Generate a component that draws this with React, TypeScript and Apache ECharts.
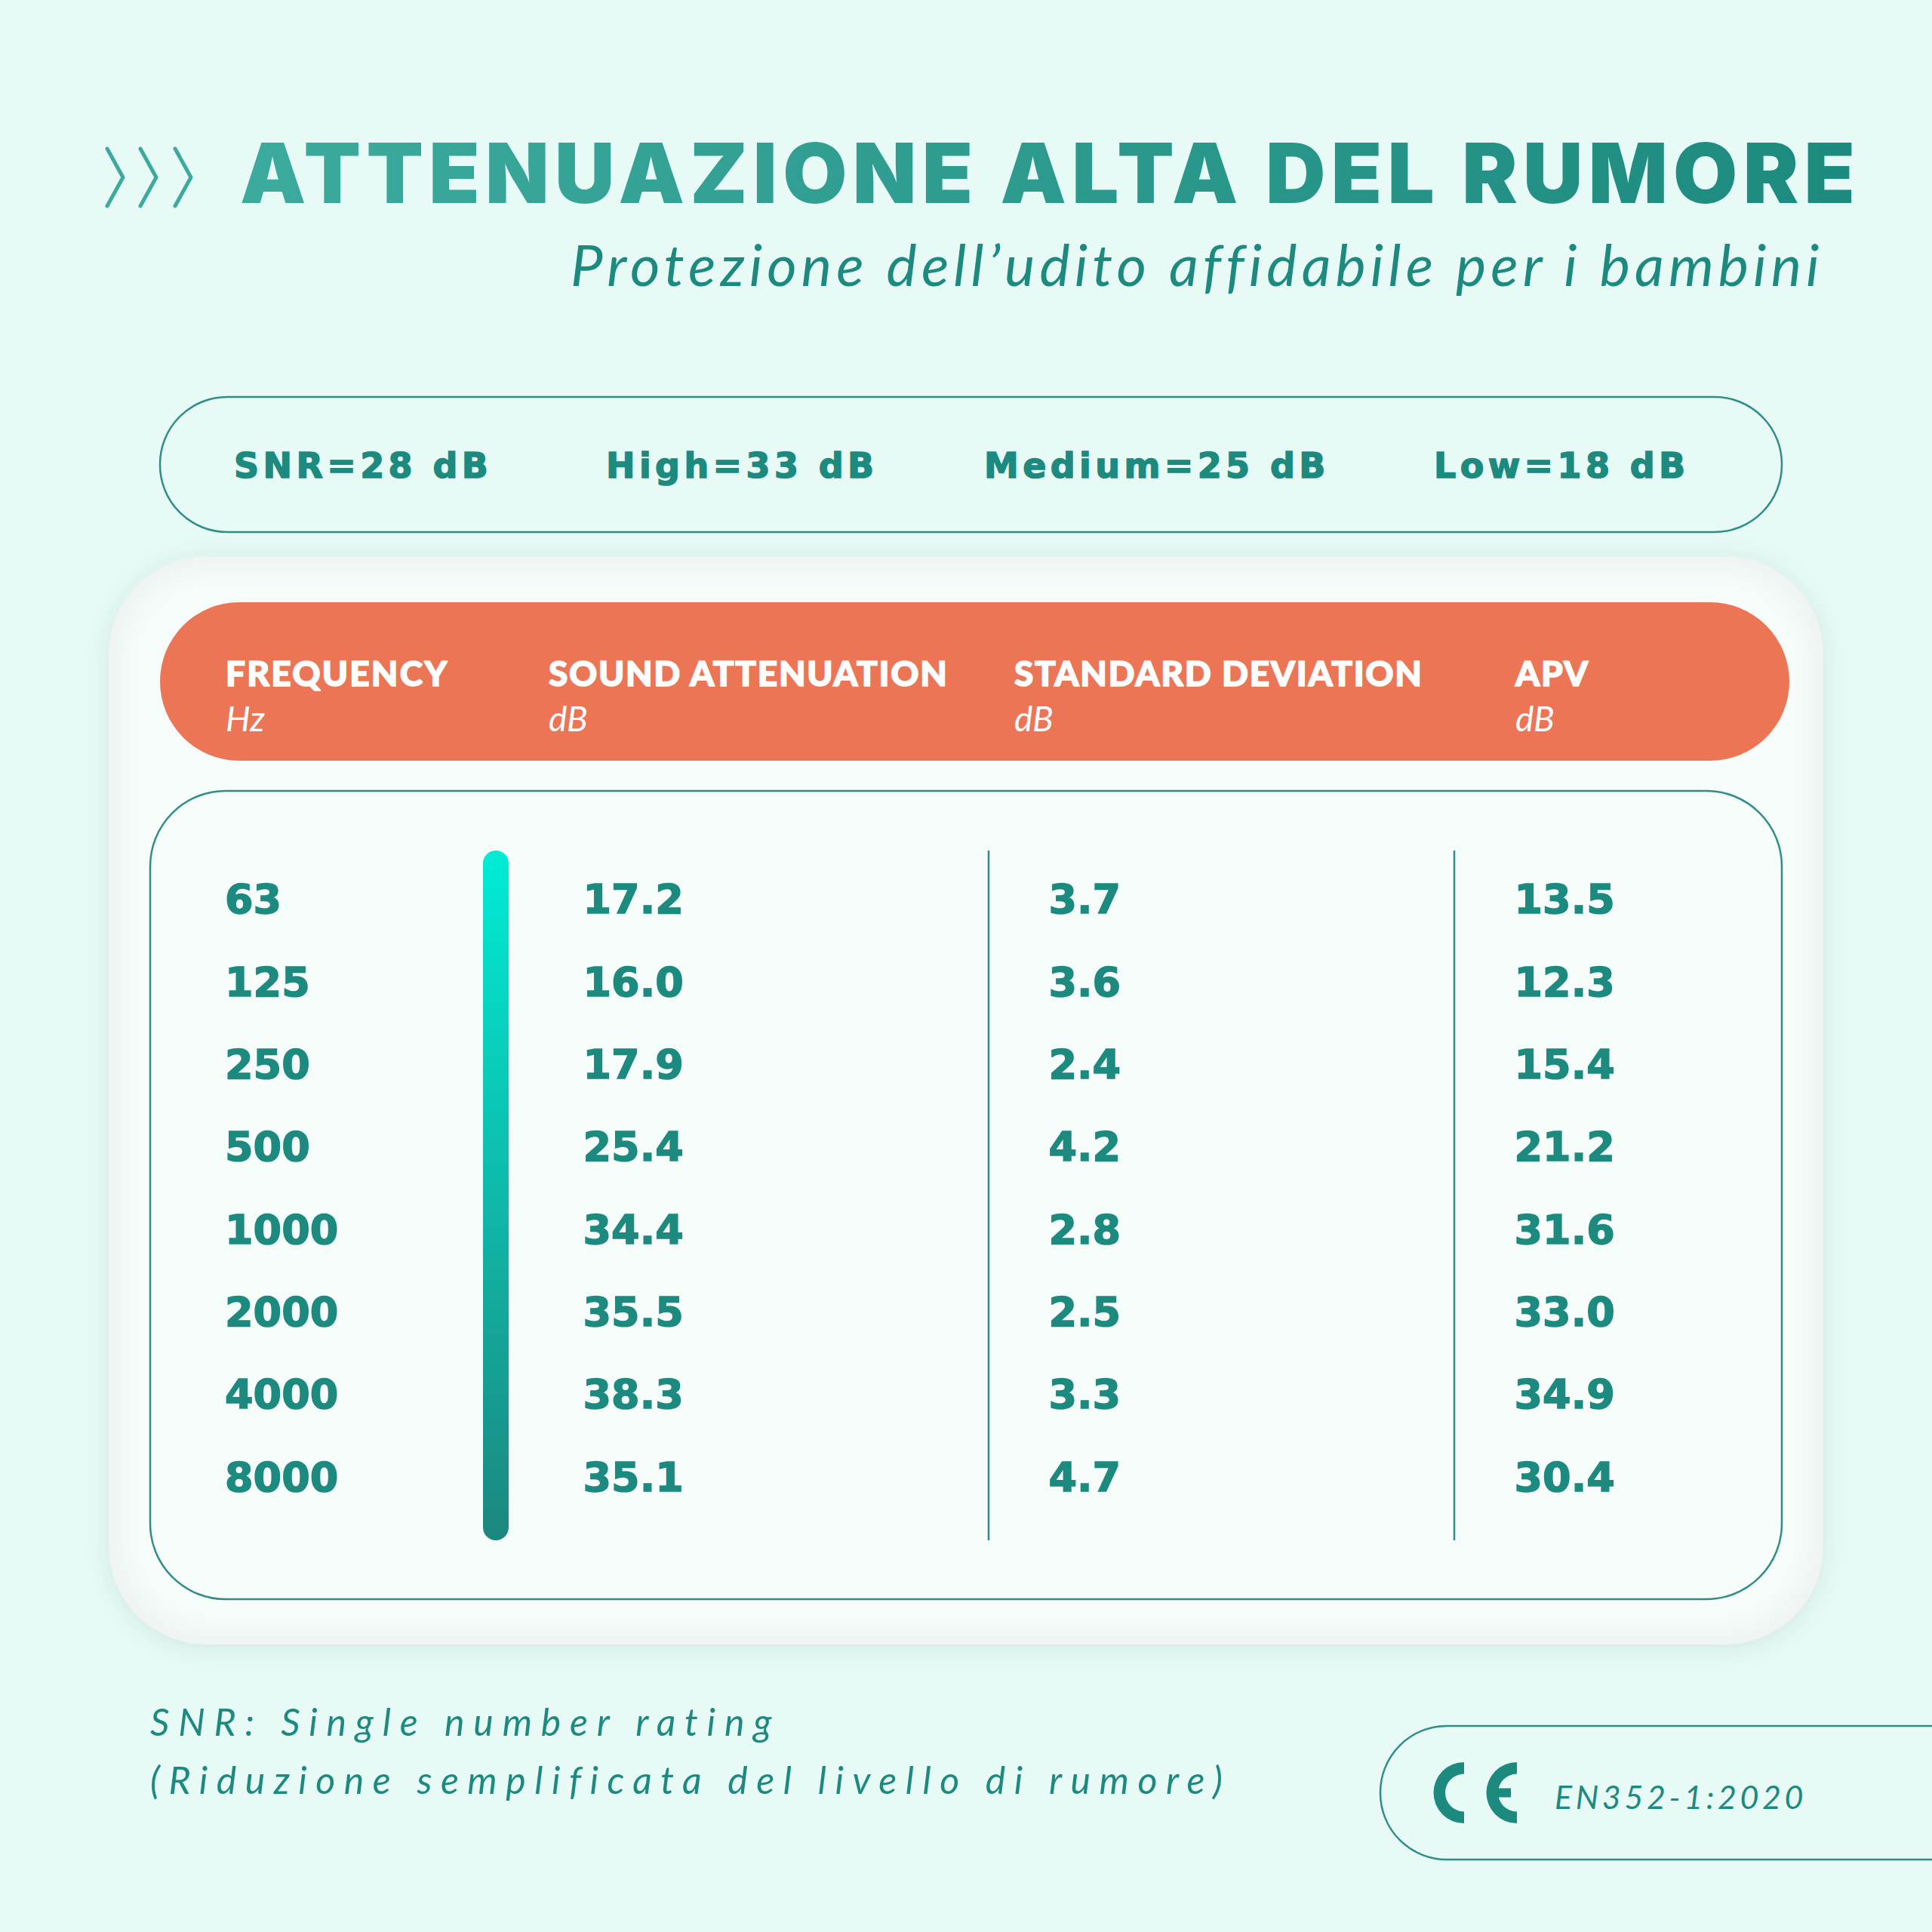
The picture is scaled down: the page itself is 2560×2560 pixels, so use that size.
import { useEffect, useRef } from 'react';
import * as echarts from 'echarts';

const frequencies = ['63', '125', '250', '500', '1000', '2000', '4000', '8000'];
const soundAttenuation = [17.2, 16.0, 17.9, 25.4, 34.4, 35.5, 38.3, 35.1];
const standardDeviation = [3.7, 3.6, 2.4, 4.2, 2.8, 2.5, 3.3, 4.7];
const apv = [13.5, 12.3, 15.4, 21.2, 31.6, 33.0, 34.9, 30.4];

const ratingLabels = ['SNR=28 dB', 'High=33 dB', 'Medium=25 dB', 'Low=18 dB'];
const ratingX = [310, 803, 1304, 1900];
const columnTitles = ['FREQUENCY', 'SOUND ATTENUATION', 'STANDARD DEVIATION', 'APV'];
const columnUnits = ['Hz', 'dB', 'dB', 'dB'];
const headerX = [299, 727, 1344, 2008];
const footnotes = ['SNR: Single number rating', '(Riduzione semplificata del livello di rumore)'];

const TITLE = 'ATTENUAZIONE ALTA DEL RUMORE';
const SUBTITLE = 'Protezione dell\u2019udito affidabile per i bambini';
const NORM = 'EN352-1:2020';

const TEAL = '#1c8a7e';
const LINE = '#2f8f85';
const FONT = 'Lato';
const HEAVY = '"DejaVu Sans"';

// css letter spacing per text, echarts has no option for it
const spacing: Record<string, number> = {
  [TITLE]: 7.3,
  [SUBTITLE]: 6.1,
  [NORM]: 4.6,
  [footnotes[0]]: 11.8,
  [footnotes[1]]: 11.5,
  FREQUENCY: 2.2,
  'SOUND ATTENUATION': 1.7,
  'STANDARD DEVIATION': 1.7,
  APV: 1.7,
};
ratingLabels.forEach((l) => (spacing[l] = 5.4));

echarts.graphic.registerShape(
  'ceMark',
  echarts.graphic.extendPath(
    'M44 0 A40.5 40.5 0 0 0 44 81 L44 65.5 A25 25 0 0 1 44 15.5 Z ' +
      'M114 0 A40.5 40.5 0 0 0 114 81 L114 65.5 A25 25 0 0 1 114 15.5 Z ' +
      'M84 34.5 L84 46.5 L106 46.5 L106 34.5 Z',
    {}
  )
);

function txt(text: string, x: number, y: number, size: number, weight: number, fill: string, italic = false, family = FONT, thicken = 0) {
  return {
    type: 'text',
    style: {
      text,
      x,
      y,
      fill,
      stroke: thicken ? fill : undefined,
      lineWidth: thicken,
      fontFamily: family,
      fontSize: size,
      fontWeight: weight,
      fontStyle: italic ? 'italic' : 'normal',
      verticalAlign: 'middle',
    },
  };
}

function chevron(x: number) {
  return {
    type: 'polyline',
    shape: { points: [[x, 197], [x + 21, 235], [x, 273]] },
    style: { fill: 'none', stroke: '#3cab9e', lineWidth: 5, lineCap: 'round', lineJoin: 'round' },
  };
}

function vLine(x: number) {
  return {
    type: 'line',
    shape: { x1: x, y1: 1127, x2: x, y2: 2041 },
    style: { stroke: LINE, lineWidth: 2.5 },
  };
}

// soft rim of the panel: stepped rects from the grey edge to the inner tint
function panelRim() {
  const steps = 12;
  const from = [239, 244, 242];
  const to = [245, 252, 250];
  const out: any[] = [];
  for (let i = 1; i <= steps; i++) {
    const c = from.map((f, k) => Math.round(f + ((to[k] - f) * i) / steps));
    const d = i * 3;
    out.push({
      type: 'rect',
      shape: { x: 144 + d, y: 737 + d, width: 2272 - 2 * d, height: 1442 - 2 * d, r: 130 - d * 0.7 },
      style: { fill: `rgb(${c.join(',')})` },
    });
  }
  return out;
}

function valueColumn(name: string, x: number, values: number[]) {
  return {
    name,
    type: 'scatter',
    symbolSize: 1,
    itemStyle: { color: 'transparent', opacity: 1 },
    data: values.map((v, i) => ({ value: [x, i], label: { formatter: v.toFixed(1) } })),
    label: {
      show: true,
      position: 'right',
      distance: 0,
      color: TEAL,
      fontFamily: HEAVY,
      fontSize: 54,
      fontWeight: 700,
      textBorderColor: TEAL,
      textBorderWidth: 1.5,
    },
  };
}

export default function App() {
  const chartRef = useRef<HTMLDivElement>(null);

  useEffect(() => {
    if (!chartRef.current) return;
    const el = chartRef.current;
    const chart = echarts.init(el, undefined, { renderer: 'svg' });

    chart.setOption({
      animation: false,
      backgroundColor: '#e7faf6',
      grid: { left: 0, right: 0, top: 1137, height: 875 },
      xAxis: { type: 'value', min: 0, max: 2560, show: false },
      yAxis: {
        type: 'category',
        inverse: true,
        data: frequencies,
        axisLine: { show: false },
        axisTick: { show: false },
        splitLine: { show: false },
        axisLabel: {
          inside: true,
          margin: 298,
          align: 'left',
          color: TEAL,
          fontFamily: HEAVY,
          fontSize: 54,
          fontWeight: 700,
          textBorderColor: TEAL,
          textBorderWidth: 1.5,
        },
      },
      series: [
        valueColumn('Sound attenuation', 772, soundAttenuation),
        valueColumn('Standard deviation', 1389, standardDeviation),
        valueColumn('APV', 2006, apv),
      ],
      graphic: {
        z: -1,
        elements: [
          chevron(142),
          chevron(186),
          chevron(232),
          txt(TITLE, 318, 229, 110, 900, TEAL, false, 'Inter'),
          txt(SUBTITLE, 756, 349, 76, 400, TEAL, true),
          {
            type: 'rect',
            shape: { x: 212, y: 526, width: 2149, height: 179, r: 89 },
            style: { fill: 'none', stroke: LINE, lineWidth: 2.5 },
          },
          ...ratingLabels.map((l, i) => txt(l, ratingX[i], 617, 46, 700, TEAL, false, HEAVY, 1.5)),
          {
            type: 'rect',
            shape: { x: 144, y: 737, width: 2272, height: 1442, r: 130 },
            style: { fill: '#eff4f2', shadowBlur: 30, shadowColor: 'rgba(60,110,100,0.14)', shadowOffsetY: 4 },
          },
          ...panelRim(),
          {
            type: 'rect',
            shape: { x: 212, y: 798, width: 2159, height: 210, r: 105 },
            style: { fill: '#ec7556' },
          },
          ...columnTitles.map((t, i) => txt(t, headerX[i], 891, 46, 900, '#ffffff', false, FONT, 1.5)),
          ...columnUnits.map((t, i) => txt(t, headerX[i], 951, 46, 400, '#ffffff', true)),
          {
            type: 'rect',
            shape: { x: 199, y: 1048, width: 2162, height: 1071, r: 100 },
            style: { fill: 'none', stroke: LINE, lineWidth: 2.5 },
          },
          {
            type: 'rect',
            shape: { x: 640, y: 1127, width: 34, height: 914, r: 17 },
            style: {
              fill: new echarts.graphic.LinearGradient(0, 0, 0, 1, [
                { offset: 0, color: '#00ecd5' },
                { offset: 1, color: '#1c877e' },
              ]) as any,
            },
          },
          vLine(1310),
          vLine(1927),
          txt(footnotes[0], 199, 2281, 50, 400, TEAL, true),
          txt(footnotes[1], 199, 2358, 50, 400, TEAL, true),
          {
            type: 'rect',
            shape: { x: 1829, y: 2287, width: 900, height: 177, r: 88 },
            style: { fill: 'none', stroke: LINE, lineWidth: 2.5 },
          },
          { type: 'ceMark', x: 1896, y: 2335, style: { fill: TEAL } },
          txt(NORM, 2060, 2380, 43, 400, TEAL, true),
        ],
      },
    });

    const applySpacing = () => {
      const svg = el.querySelector('svg');
      if (svg && !svg.querySelector('#titleFill')) {
        // text gradients are dropped by the svg renderer, add the fill by hand
        const ns = 'http://www.w3.org/2000/svg';
        const grad = document.createElementNS(ns, 'linearGradient');
        grad.setAttribute('id', 'titleFill');
        [['0', '#3cab9e'], ['1', '#1c8a7e']].forEach(([o, c]) => {
          const stop = document.createElementNS(ns, 'stop');
          stop.setAttribute('offset', o);
          stop.setAttribute('stop-color', c);
          grad.appendChild(stop);
        });
        const defs = document.createElementNS(ns, 'defs');
        defs.appendChild(grad);
        svg.appendChild(defs);
      }
      el.querySelectorAll('text').forEach((t) => {
        const s = spacing[t.textContent || ''];
        if (s) (t as SVGTextElement).style.letterSpacing = `${s}px`;
        if (t.textContent === TITLE) (t as SVGTextElement).style.fill = 'url(#titleFill)';
      });
    };
    applySpacing();
    chart.on('finished', applySpacing);

    return () => {
      chart.dispose();
    };
  }, []);

  return <div ref={chartRef} style={{ position: 'fixed', left: 0, top: 0, width: 2560, height: 2560 }} />;
}
